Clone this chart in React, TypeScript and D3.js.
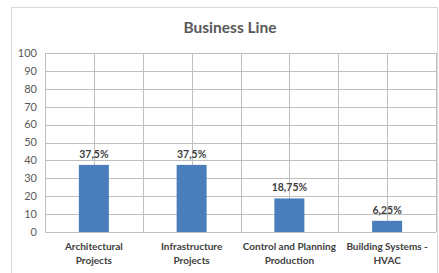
import React, { useRef, useEffect } from 'react';
import * as d3 from 'd3';

const categories = [
  ['Architectural', 'Projects'],
  ['Infrastructure', 'Projects'],
  ['Control and Planning', 'Production'],
  ['Building Systems -', 'HVAC'],
];
const values = [37.5, 37.5, 18.75, 6.25];
const valueLabels = ['37,5%', '37,5%', '18,75%', '6,25%'];
const yTicks = [0, 10, 20, 30, 40, 50, 60, 70, 80, 90, 100];

const App = () => {
  const svgRef = useRef<SVGSVGElement>(null);

  useEffect(() => {
    const width = 439;
    const height = 273;
    const margin = { top: 53, right: 3, bottom: 41, left: 45 };
    const font = 'Lato, "Open Sans", sans-serif';

    const root = d3.select(svgRef.current);
    root.selectAll('*').remove();
    root.attr('width', width).attr('height', height);

    // chart border
    root.append('rect')
      .attr('x', 11.5).attr('y', 7.5)
      .attr('width', 426).attr('height', 270)
      .attr('fill', '#fff')
      .attr('stroke', '#d9d9d9');

    // title
    root.append('text')
      .attr('x', 230).attr('y', 33)
      .attr('text-anchor', 'middle')
      .attr('font-family', font)
      .attr('font-weight', 'bold')
      .attr('font-size', 15.5)
      .attr('fill', '#595959')
      .text('Business Line');

    const innerW = width - margin.left - margin.right;
    const innerH = height - margin.top - margin.bottom;
    const svg = root.append('g').attr('transform', `translate(${margin.left},${margin.top})`);

    const idx = categories.map((_, i) => String(i));
    const x = d3.scaleBand().domain(idx).range([0, innerW]).paddingInner(0).paddingOuter(0);
    const y = d3.scaleLinear().domain([0, 100]).range([innerH, 0]);

    // horizontal gridlines
    svg.selectAll('.hgrid')
      .data(yTicks)
      .enter().append('line')
      .attr('x1', 0).attr('x2', innerW)
      .attr('y1', d => Math.round(y(d)) + 0.5).attr('y2', d => Math.round(y(d)) + 0.5)
      .attr('stroke', '#bfbfbf');

    // vertical gridlines at category edges and centers
    const vLines: number[] = [];
    idx.forEach(d => {
      vLines.push(x(d)!);
      vLines.push(x(d)! + x.bandwidth() / 2);
    });
    vLines.push(innerW);
    svg.selectAll('.vgrid')
      .data(vLines)
      .enter().append('line')
      .attr('x1', d => Math.round(d) + 0.5).attr('x2', d => Math.round(d) + 0.5)
      .attr('y1', 0).attr('y2', innerH)
      .attr('stroke', '#bfbfbf');

    // bars
    const barW = 30;
    svg.selectAll('.bar')
      .data(values)
      .enter().append('rect')
      .attr('x', (d, i) => x(String(i))! + x.bandwidth() / 2 - barW / 2)
      .attr('y', d => y(d))
      .attr('width', barW)
      .attr('height', d => innerH - y(d))
      .attr('fill', '#4a7ebb');

    // value labels
    svg.selectAll('.vlabel')
      .data(values)
      .enter().append('text')
      .attr('x', (d, i) => x(String(i))! + x.bandwidth() / 2)
      .attr('y', d => y(d) - 7)
      .attr('text-anchor', 'middle')
      .attr('font-family', font)
      .attr('font-weight', 'bold')
      .attr('font-size', 10.5)
      .attr('fill', '#404040')
      .text((d, i) => valueLabels[i]);

    // y axis labels
    svg.selectAll('.ytick')
      .data(yTicks)
      .enter().append('text')
      .attr('x', -8)
      .attr('y', d => y(d))
      .attr('dy', '0.35em')
      .attr('text-anchor', 'end')
      .attr('font-family', font)
      .attr('font-size', 11)
      .attr('fill', '#595959')
      .text(d => d);

    // category labels
    const cat = svg.selectAll('.cat')
      .data(categories)
      .enter().append('text')
      .attr('text-anchor', 'middle')
      .attr('font-family', font)
      .attr('font-weight', 'bold')
      .attr('font-size', 10)
      .attr('fill', '#404040');
    cat.each(function (d, i) {
      const t = d3.select(this);
      d.forEach((line, j) => {
        t.append('tspan')
          .attr('x', x(String(i))! + x.bandwidth() / 2)
          .attr('y', innerH + 18 + j * 13.5)
          .text(line);
      });
    });
  }, []);

  return (
    <svg ref={svgRef} style={{ position: 'absolute', left: 0, top: 0 }}></svg>
  );
};

export default App;
